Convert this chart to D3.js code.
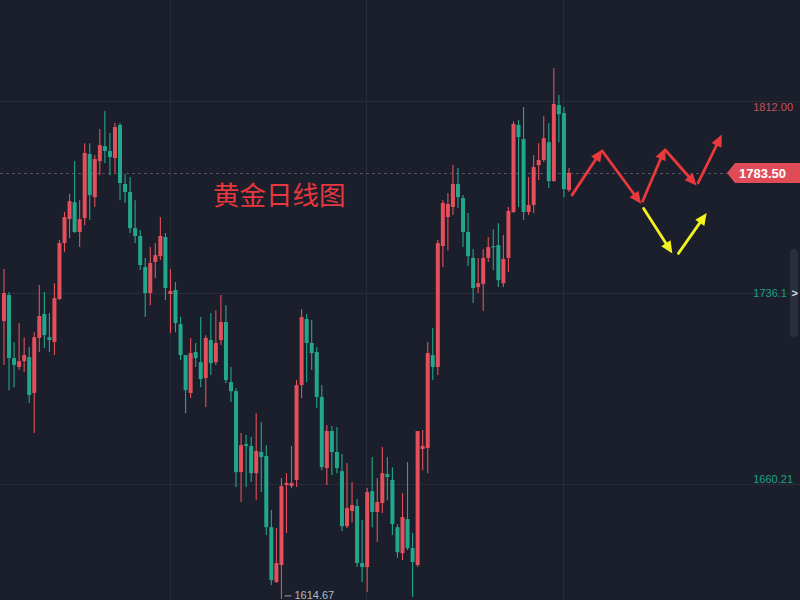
<!DOCTYPE html>
<html>
<head>
<meta charset="utf-8">
<script src="https://cdn.jsdelivr.net/npm/d3@7/dist/d3.min.js"></script>
<style>
  html, body { margin: 0; padding: 0; background: #1b1f2b; }
  svg { display: block; }
</style>
</head>
<body>
<svg id="chart" width="800" height="600"></svg>
<script>
// ---------- DATA (gold daily OHLC) ----------
const openP = [
1724.8,1735.1,1710.1,1706.6,1708.9,1710.5,1696.3,1718.1,1727.6,1718.4,
1716.5,1733.5,1755.7,1765.2,1771.9,1760.1,1765.6,1791.0,1773.9,1788.2,
1794.1,1792.2,1789.4,1802.5,1779.1,1775.9,1761.6,1758.5,1746.2,1735.9,
1748.2,1750.5,1758.1,1735.5,1737.1,1723.6,1711.3,1696.3,1712.5,1708.5,
1702.2,1717.3,1708.5,1717.3,1724.4,1700.6,1697.0,1664.9,1676.0,1675.3,
1664.5,1672.9,1671.3,1643.1,1621.4,1628.1,1659.8,1659.4,1661.8,1699.4,
1725.6,1716.1,1712.5,1694.7,1666.5,1681.2,1672.9,1665.3,1643.5,1649.5,
1651.5,1628.9,1627.3,1657.4,1649.1,1652.7,1664.2,1661.8,1643.1,1632.8,
1646.3,1634.8,1628.1,1674.1,1674.5,1711.3,1706.6,1754.5,1766.0,1770.0,
1779.1,1773.5,1760.1,1749.8,1738.3,1739.5,1749.8,1754.5,1754.9,1739.8,
1749.8,1768.0,1802.5,1796.9,1768.0,1770.8,1786.6,1788.6,1795.7,1780.3,
1810.4,1807.2,1776.7
];
const highP = [
1745.4,1736.3,1716.5,1724.0,1718.4,1714.5,1720.4,1739.1,1736.3,1728.0,
1739.8,1756.9,1768.0,1775.1,1788.2,1772.7,1795.3,1795.3,1790.6,1800.9,
1808.0,1799.3,1803.3,1803.3,1783.0,1781.9,1772.7,1760.9,1749.8,1754.1,
1755.7,1766.0,1759.7,1745.4,1740.2,1726.4,1711.3,1718.1,1716.1,1726.4,
1719.2,1728.0,1729.1,1735.1,1731.1,1706.6,1698.2,1680.4,1679.6,1678.8,
1688.3,1684.8,1675.6,1649.9,1642.8,1662.6,1664.5,1675.3,1701.4,1729.5,
1727.6,1725.2,1714.5,1699.4,1683.6,1683.2,1682.8,1672.1,1668.5,1661.0,
1654.2,1645.9,1658.6,1670.9,1662.6,1674.9,1670.9,1666.9,1644.3,1656.6,
1668.9,1640.8,1681.2,1681.6,1716.5,1722.0,1756.9,1772.7,1775.5,1786.6,
1785.4,1774.7,1767.6,1753.3,1749.8,1753.3,1758.1,1761.2,1763.6,1758.9,
1770.0,1804.0,1804.4,1809.6,1781.9,1790.6,1795.3,1806.0,1803.3,1825.1,
1814.4,1809.6,1785.4
];
const lowP = [
1707.4,1697.4,1698.6,1705.4,1704.6,1692.3,1680.4,1712.5,1714.1,1712.5,
1711.3,1733.1,1752.1,1757.7,1759.7,1754.1,1762.8,1764.8,1770.0,1782.6,
1787.4,1782.6,1783.4,1772.7,1771.6,1759.7,1755.7,1745.0,1726.4,1731.1,
1741.8,1749.0,1733.1,1720.0,1720.4,1709.3,1688.3,1694.3,1706.6,1698.6,
1690.7,1703.4,1707.4,1715.3,1700.2,1692.7,1659.0,1653.1,1659.0,1661.0,
1653.8,1657.0,1640.0,1620.2,1621.0,1614.67,1640.8,1658.6,1659.0,1694.3,
1700.6,1705.4,1690.3,1665.7,1659.8,1663.8,1664.5,1641.6,1642.8,1645.1,
1627.3,1621.4,1617.4,1643.1,1637.2,1648.7,1653.8,1640.0,1630.9,1630.1,
1634.0,1615.4,1627.3,1665.7,1664.5,1701.4,1703.4,1746.2,1752.9,1766.8,
1769.6,1754.1,1746.6,1731.9,1735.9,1728.8,1748.2,1745.0,1738.3,1738.3,
1744.2,1767.6,1770.0,1764.8,1766.8,1767.6,1780.7,1787.8,1777.5,1779.9,
1795.7,1773.9,1775.9
];
const closeP = [
1735.9,1710.1,1707.4,1708.9,1711.3,1695.5,1718.4,1726.8,1719.2,1717.3,
1733.9,1755.7,1766.0,1772.3,1760.1,1765.2,1791.4,1774.7,1789.0,1794.5,
1792.2,1789.8,1801.7,1779.5,1775.9,1761.6,1758.5,1747.0,1735.9,1747.8,
1750.9,1758.5,1737.9,1736.7,1724.0,1711.3,1697.4,1712.1,1710.1,1701.8,
1718.1,1708.1,1716.1,1724.4,1701.4,1697.0,1664.9,1675.6,1675.3,1664.5,
1673.3,1670.9,1643.1,1622.1,1628.9,1659.4,1660.6,1660.6,1699.4,1726.4,
1716.1,1712.1,1694.7,1666.9,1681.2,1672.9,1666.5,1643.5,1650.7,1651.9,
1628.9,1627.3,1657.0,1649.1,1653.1,1664.5,1663.0,1644.3,1633.2,1647.1,
1634.8,1629.3,1681.2,1675.3,1712.1,1706.6,1755.7,1771.6,1771.2,1779.1,
1773.9,1760.1,1750.5,1737.9,1739.8,1749.8,1754.1,1754.1,1741.0,1749.4,
1768.4,1802.9,1797.7,1768.0,1770.8,1785.8,1788.6,1797.3,1780.3,1810.8,
1806.8,1777.1,1783.5
];

// Price levels shown on the right scale
const priceTicks = [1812.00, 1736.1, 1660.21];
const priceTickLabels = ["1812.00", "1736.1", "1660.21"];
// Month boundaries (in bar index units) for vertical grid
const monthBreaks = [32.9, 71.7, 110.8];
const lastPrice = 1783.50;
const lowestLow = 1614.67;
const title = "黄金日线图";

// Forecast arrows: [startIndex, startPrice, endIndex, endPrice]
const redArrows = [
  [112.6, 1774.7, 118.6, 1792.8],
  [118.6, 1792.2, 126.3, 1771.3],
  [126.6, 1772.3, 131.1, 1793.4],
  [131.1, 1792.6, 137.3, 1778.5],
  [137.6, 1779.6, 142.3, 1798.7]
];
const yellowArrows = [
  [126.8, 1769.4, 132.5, 1751.6],
  [133.7, 1751.6, 139.3, 1767.6]
];

// ---------- CHART ----------
const W = 800, H = 600;
const UP = "#e3505b", DOWN = "#22a78d";
const svg = d3.select("#chart");
svg.append("rect").attr("width", W).attr("height", H).attr("fill", "#1b1f2b");

const x = d3.scaleLinear().domain([-0.79, 157.8]).range([0, W]);
const y = d3.scaleLinear().domain([1614.24, 1852.03]).range([H, 0]);

const candles = openP.map((o, i) => ({ i, o, h: highP[i], l: lowP[i], c: closeP[i] }));

// grid
const grid = svg.append("g");
grid.selectAll("line.h").data(priceTicks).join("line")
  .attr("x1", 0).attr("x2", W)
  .attr("y1", d => Math.round(y(d)) + 0.5).attr("y2", d => Math.round(y(d)) + 0.5)
  .attr("stroke", "#282c39").attr("stroke-width", 1);
grid.selectAll("line.v").data(monthBreaks).join("line")
  .attr("y1", 0).attr("y2", H)
  .attr("x1", d => Math.round(x(d)) + 0.5).attr("x2", d => Math.round(x(d)) + 0.5)
  .attr("stroke", "#282c39").attr("stroke-width", 1);

// last price dashed line
svg.append("line")
  .attr("x1", 0).attr("x2", 728)
  .attr("y1", Math.round(y(lastPrice)) + 0.5).attr("y2", Math.round(y(lastPrice)) + 0.5)
  .attr("stroke", "#565362").attr("stroke-width", 1.2).attr("stroke-dasharray", "3,3");

// candles
const bw = 4;
const cg = svg.append("g");
const cs = cg.selectAll("g").data(candles).join("g");
cs.append("line")
  .attr("x1", d => x(d.i)).attr("x2", d => x(d.i))
  .attr("y1", d => y(d.h)).attr("y2", d => y(d.l))
  .attr("stroke", d => d.c >= d.o ? UP : DOWN).attr("stroke-width", 1.1);
cs.append("rect")
  .attr("x", d => x(d.i) - bw / 2)
  .attr("width", bw)
  .attr("y", d => y(Math.max(d.o, d.c)))
  .attr("height", d => Math.max(1.2, Math.abs(y(d.o) - y(d.c))))
  .attr("fill", d => d.c >= d.o ? UP : DOWN);

// title
svg.append("text")
  .attr("x", 213).attr("y", 205)
  .attr("font-family", "'Noto Sans CJK SC', sans-serif")
  .attr("font-size", 26.5)
  .attr("fill", "#e8373e")
  .text(title);

// arrows
function drawArrow(a, color) {
  const x1 = x(a[0]), y1 = y(a[1]), x2 = x(a[2]), y2 = y(a[3]);
  const ang = Math.atan2(y2 - y1, x2 - x1);
  const L = 12, hw = 5.5;
  const bx = x2 - L * Math.cos(ang), by = y2 - L * Math.sin(ang);
  svg.append("line")
    .attr("x1", x1).attr("y1", y1).attr("x2", bx).attr("y2", by)
    .attr("stroke", color).attr("stroke-width", 2.8).attr("stroke-linecap", "round");
  const px = -Math.sin(ang), py = Math.cos(ang);
  svg.append("path")
    .attr("d", `M${x2},${y2}L${bx + px * hw},${by + py * hw}L${bx - px * hw},${by - py * hw}Z`)
    .attr("fill", color);
}
redArrows.forEach(a => drawArrow(a, "#e8393d"));
yellowArrows.forEach(a => drawArrow(a, "#f2f21e"));

// scrollbar
svg.append("rect").attr("x", 790).attr("y", 249).attr("width", 8).attr("height", 88)
  .attr("rx", 4).attr("fill", "#2a2f3d");

// right scale labels
const labelColors = ["#c4505a", "#1f9f88", "#1f9f88"];
const labelDy = [6, 1, -5];
const labelX = [793, 787, 793];
svg.selectAll("text.pl").data(priceTicks).join("text")
  .attr("x", (d, i) => labelX[i]).attr("text-anchor", "end")
  .attr("y", (d, i) => y(d) + labelDy[i])
  .attr("dy", "0.35em")
  .attr("font-family", "Arial, 'Liberation Sans', sans-serif")
  .attr("font-size", 11)
  .attr("fill", (d, i) => labelColors[i])
  .text((d, i) => priceTickLabels[i]);
svg.append("text").attr("x", 798).attr("y", y(1736.1) + 1).attr("dy", "0.36em")
  .attr("text-anchor", "end")
  .attr("font-family", "Arial, 'Liberation Sans', sans-serif").attr("font-size", 11).attr("font-weight", "bold")
  .attr("fill", "#d6d8de").text(">");

// last price label
const ly = y(lastPrice);
svg.append("path")
  .attr("d", `M727,${ly}L735,${ly - 10}L800,${ly - 10}L800,${ly + 10}L735,${ly + 10}Z`)
  .attr("fill", "#e04b58");
svg.append("text")
  .attr("x", 739).attr("y", ly).attr("dy", "0.36em")
  .attr("font-family", "Arial, 'Liberation Sans', sans-serif")
  .attr("font-size", 13).attr("font-weight", "bold")
  .attr("fill", "#ffffff").text(lastPrice.toFixed(2));

// lowest low marker
const lowIdx = lowP.indexOf(lowestLow);
svg.append("line")
  .attr("x1", x(lowIdx) + 3).attr("x2", x(lowIdx) + 10)
  .attr("y1", y(lowestLow) - 3).attr("y2", y(lowestLow) - 3)
  .attr("stroke", "#9a9ea8").attr("stroke-width", 1);
svg.append("text")
  .attr("x", x(lowIdx) + 13).attr("y", y(lowestLow) + 0.5)
  .attr("font-family", "Arial, 'Liberation Sans', sans-serif")
  .attr("font-size", 11).attr("fill", "#b4b8c2")
  .text(lowestLow.toFixed(2));
</script>
</body>
</html>
